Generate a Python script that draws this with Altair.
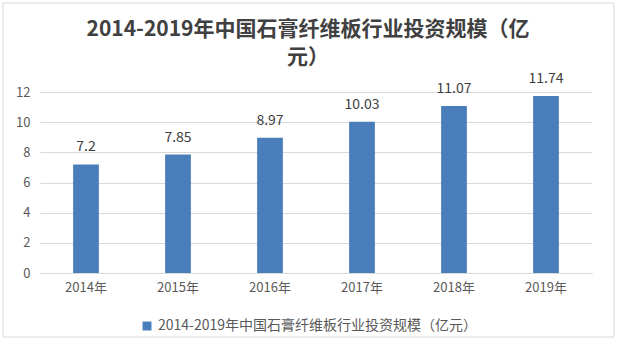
import altair as alt
import pandas as pd

years = ["2014年", "2015年", "2016年", "2017年", "2018年", "2019年"]
values = [7.2, 7.85, 8.97, 10.03, 11.07, 11.74]
labels = ["7.2", "7.85", "8.97", "10.03", "11.07", "11.74"]
series = "2014-2019年中国石膏纤维板行业投资规模（亿元）"
title_lines = ["2014-2019年中国石膏纤维板行业投资规模（亿", "元）"]

df = pd.DataFrame({"year": years, "value": values, "label": labels, "series": [series] * len(years)})

FONT = "Noto Sans CJK SC"

base = alt.Chart(df)

border = alt.Chart(pd.DataFrame({"a": [0]})).mark_rect(
    fill=None, stroke="#d9d9d9", strokeWidth=1
).encode(x=alt.value(-37), x2=alt.value(574), y=alt.value(-89), y2=alt.value(245))

title1 = alt.Chart(pd.DataFrame({"t": [title_lines[0]]})).mark_text(
    font=FONT, fontSize=21, fontWeight="bold", color="#404040", align="center", baseline="middle"
).encode(x=alt.value(268), y=alt.value(-62), text="t:N")
title2 = alt.Chart(pd.DataFrame({"t": [title_lines[1]]})).mark_text(
    font=FONT, fontSize=21, fontWeight="bold", color="#404040", align="center", baseline="middle"
).encode(x=alt.value(268), y=alt.value(-34), text="t:N")

x_enc = alt.X("year:N", sort=years, title=None,
              scale=alt.Scale(paddingInner=0.72, paddingOuter=0.36),
              axis=alt.Axis(labelAngle=0, labelFont=FONT, labelFontSize=13, labelColor="#595959",
                            domainColor="#d9d9d9", ticks=False, labelPadding=8))
y_enc = alt.Y("value:Q", title=None,
              scale=alt.Scale(domain=[0, 12]),
              axis=alt.Axis(values=[0, 2, 4, 6, 8, 10, 12], labelFont=FONT, labelFontSize=13,
                            labelColor="#595959", domain=False, ticks=False, gridColor="#d9d9d9",
                            labelPadding=10, labelOverlap=False))

bars = base.mark_bar(color="#4a7ebb").encode(
    x=x_enc,
    y=y_enc,
    color=alt.Color("series:N", scale=alt.Scale(range=["#4a7ebb"]),
                    legend=alt.Legend(title=None, orient="none", legendX=100, legendY=227,
                                      symbolType="square", symbolSize=80, labelFont=FONT,
                                      labelFontSize=14, labelColor="#595959", labelLimit=0)),
)

text = base.mark_text(dy=-17, font=FONT, fontSize=14, color="#404040").encode(
    x=x_enc,
    y=y_enc,
    text="label:N",
)

chart = alt.layer(border, title1, title2, bars, text).properties(
    width=552, height=181,
    padding={"left": 40, "top": 92, "right": 27, "bottom": 81},
    autosize=alt.AutoSizeParams(type="none"),
).configure_view(stroke=None)

chart.save("out.html", embed_options={"renderer": "svg", "actions": False})
